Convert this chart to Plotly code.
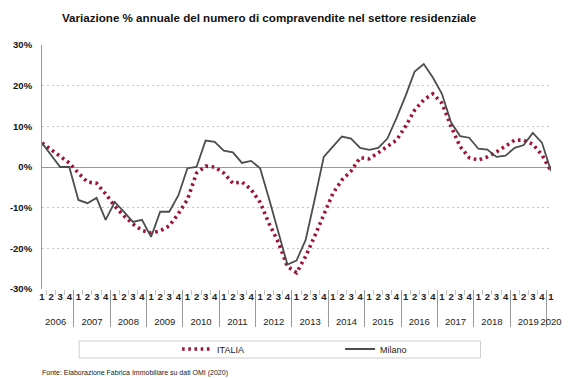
import plotly.graph_objects as go

# Quarterly year-on-year change in residential sales (%), 2006 Q1 - 2020 Q1
years = [str(y) for y in range(2006, 2021)]
quarters = ["1", "2", "3", "4"]

italia = [5.9, 4.3, 2.7, 1.0,
          -1.5, -3.7, -4.0, -6.6,
          -9.6, -12.0, -14.0, -15.6,
          -16.2, -15.7, -14.5, -11.5,
          -8.0, -1.5, 0.2, 0.0,
          -1.5, -4.0, -3.7, -5.5,
          -8.7, -14.0, -18.5, -24.5,
          -26.0, -22.0, -17.0, -11.5,
          -6.5, -3.2, -1.0, 2.3,
          2.0, 3.5, 5.0, 6.6,
          10.0, 14.0, 16.5, 18.0,
          15.7, 10.0, 5.0, 2.3,
          1.7, 2.5, 3.7, 5.2,
          6.6, 6.6, 5.6, 3.0,
          -1.0]

milano = [5.9, 3.0, 0.0, 0.0,
          -8.1, -8.9, -7.6, -13.0,
          -8.6, -11.0, -13.5, -13.0,
          -17.2, -11.0, -11.0, -7.0,
          -0.3, 0.0, 6.5, 6.2,
          4.0, 3.6, 1.0, 1.5,
          -0.3, -8.0, -16.0, -24.0,
          -23.0, -18.0, -8.0, 2.5,
          5.0, 7.5, 7.0, 4.7,
          4.2, 4.7, 7.0, 12.0,
          17.5, 23.5, 25.3, 22.0,
          18.0, 11.0, 7.6, 7.2,
          4.5, 4.3, 2.5, 2.8,
          4.7, 5.4, 8.4, 6.0,
          -1.0]

y_ticks = [-30, -20, -10, 0, 10, 20, 30]
y_labels = [f"{v}%" for v in y_ticks]

# two-level category axis: year / quarter (2020 only has its first quarter);
# the year row gets an empty first line so it sits lower under the quarters
x_year, x_q = [], []
for y in years:
    for q in (quarters if y != "2020" else quarters[:1]):
        x_year.append("<br>" + y)
        x_q.append(f"<b>{q}</b>")

W, H = 568, 378
ML, MR, MT, MB = 42, 6, 45, 89
PW, PH = W - ML - MR, H - MT - MB

fig = go.Figure()
fig.add_trace(go.Scatter(
    x=[x_year, x_q], y=italia, name="ITALIA", mode="lines",
    line=dict(color="#9e1434", width=3.6, dash="2.6px,3.6px"),
))
fig.add_trace(go.Scatter(
    x=[x_year, x_q], y=milano, name="Milano", mode="lines",
    line=dict(color="#4d4d4d", width=1.8),
))

def px_x(p):
    return (p - ML) / PW

def px_y(p):
    return (H - MB - p) / PH

# frame around the legend
fig.add_shape(type="rect", xref="paper", yref="paper",
              x0=px_x(80), x1=px_x(490), y0=px_y(341), y1=px_y(358),
              line=dict(color="#cfcfcf", width=1), fillcolor="rgba(0,0,0,0)")

fig.update_layout(
    width=W, height=H,
    margin=dict(l=ML, r=MR, t=MT, b=MB),
    paper_bgcolor="white", plot_bgcolor="white",
    font=dict(family="Liberation Sans, Arial, sans-serif", color="#222"),
    showlegend=True,
    legend=dict(orientation="h", x=px_x(180), y=px_y(349),
                xanchor="left", yanchor="middle",
                entrywidth=118, entrywidthmode="pixels",
                font=dict(size=9, color="#222"),
                bgcolor="rgba(0,0,0,0)"),
    annotations=[
        dict(text="<b>Variazione % annuale del numero di compravendite nel settore residenziale</b>",
             xref="paper", yref="paper", x=px_x(274), y=px_y(17),
             xanchor="center", yanchor="middle", showarrow=False,
             font=dict(family="Liberation Sans, Arial, sans-serif",
                       size=11.6, color="#111")),
        dict(text="Fonte: Elaborazione Fabrica Immobiliare su dati OMI (2020)",
             xref="paper", yref="paper", x=px_x(40), y=px_y(373),
             xanchor="left", yanchor="middle", showarrow=False,
             font=dict(size=7, color="#222")),
    ],
)

fig.update_xaxes(
    type="multicategory",
    tickmode="linear", dtick=1, tickangle=0,
    showgrid=False, showline=False, zeroline=False,
    ticks="outside", ticklen=5, tickcolor="#c4c4c4", tickwidth=1,
    showdividers=True, dividercolor="#9a9a9a", dividerwidth=1,
    tickfont=dict(size=9.5, color="#222"),
)
fig.update_yaxes(
    range=[-30, 30], tickvals=y_ticks, ticktext=y_labels,
    showgrid=True, gridcolor="#c4c4c4", griddash="2px,3px", gridwidth=1,
    zeroline=True, zerolinecolor="#9a9a9a", zerolinewidth=1.2,
    showline=True, linecolor="#9a9a9a", linewidth=1,
    ticks="", ticklabelstandoff=7,
    tickfont=dict(size=9.5, color="#111", family="Liberation Sans, Arial, sans-serif", weight="bold"),
)

fig.write_html("out.html")
